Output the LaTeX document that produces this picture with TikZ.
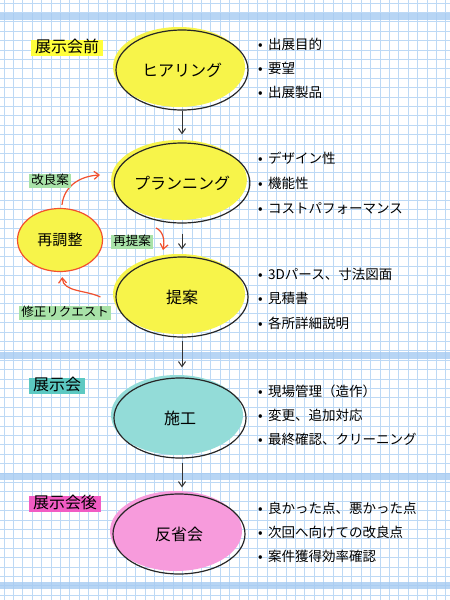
\documentclass[tikz,border=0pt]{standalone}
\usepackage{fontspec}
\setmainfont{Noto Sans CJK JP}
\usetikzlibrary{shapes.geometric, arrows.meta, positioning}
\definecolor{gridblue}{HTML}{BDD9F5}
\definecolor{bandblue}{HTML}{A6CBF2}
\definecolor{markyellow}{HTML}{F7F44A}
\definecolor{tagyellow}{HTML}{FFFF3C}
\definecolor{markteal}{HTML}{93DCD8}
\definecolor{tagteal}{HTML}{5CC9C2}
\definecolor{markpink}{HTML}{F79BDC}
\definecolor{tagpink}{HTML}{F25CC4}
\definecolor{taggreen}{HTML}{A8E2A8}
\definecolor{myred}{HTML}{F2502E}
\tikzset{
	stagenode/.style={
			ellipse,
			draw=black!85,
			line width=1.2pt,
			preaction={fill=#1, transform canvas={xshift=-3pt, yshift=3pt}},
			minimum width=132pt,
			minimum height=80pt,
			inner sep=0pt,
			font=\fontsize{16}{18}\selectfont
		},
	retunenode/.style={
			ellipse,
			draw=myred,
			line width=1.2pt,
			fill=markyellow,
			minimum width=85pt,
			minimum height=63pt,
			inner sep=0pt,
			font=\fontsize{15}{17}\selectfont
		},
	phasetag/.style={
			fill=#1,
			inner xsep=4pt,
			inner ysep=0.5pt,
			text height=12.5pt,
			text depth=3pt,
			font=\fontsize{16}{18}\selectfont
		},
	notetag/.style={
			fill=taggreen,
			inner xsep=2pt,
			inner ysep=0.5pt,
			text height=10pt,
			text depth=2.5pt,
			font=\fontsize{12.5}{14}\selectfont
		},
	itemtext/.style={
			anchor=west,
			inner sep=0pt,
			font=\fontsize{13.5}{15}\selectfont
		},
	flowarrow/.style={
			line width=1pt,
			draw=black!80,
			-{Straight Barb[length=5pt, width=7pt]}
		},
	redarrow/.style={
			line width=1.2pt,
			draw=myred,
			-{Straight Barb[length=5pt, width=8pt]}
		}
}
\newcommand{\itemdot}{\makebox[10pt][l]{•}}

\begin{document}
\begin{tikzpicture}[x=1pt, y=-1pt]
\useasboundingbox (0,0) rectangle (450,600);
\fill[white] (0,0) rectangle (450,600);

% squared paper
\foreach \gx in {4,13.4,...,450}
	\draw[gridblue, line width=0.8pt] (\gx,0) -- (\gx,600);
\foreach \gy in {3,12.4,...,600}
	\draw[gridblue, line width=0.8pt] (0,\gy) -- (450,\gy);
\foreach \by in {16,355,476,585}
	\draw[bandblue, line width=7pt, opacity=0.8] (0,\by) -- (450,\by);

% phase tags
\node[phasetag=tagyellow] (before) at (67,48) {展示会前};
\node[phasetag=tagteal] (during) at (57,386) {展示会};
\node[phasetag=tagpink] (after) at (65,504) {展示会後};

% stages
\node[stagenode=markyellow] (hear) at (182,70) {ヒアリング};
\node[stagenode=markyellow] (plan) at (182,183) {プランニング};
\node[stagenode=markyellow] (prop) at (182,297) {提案};
\node[stagenode=markteal] (build) at (180,418) {施工};
\node[stagenode=markpink] (review) at (179,534) {反省会};
\node[retunenode] (retune) at (60,240) {再調整};

% main flow
\draw[flowarrow, shorten >=8pt] (hear) -- (plan);
\draw[flowarrow, shorten <=10pt, shorten >=7pt] (plan) -- (prop);
\draw[flowarrow, shorten <=3pt, shorten >=10pt] (prop.south) -- ([xshift=2pt]build.north);
\draw[flowarrow, shorten <=4pt, shorten >=6pt] ([xshift=2pt]build.south) -- ([xshift=3pt]review.north);

% feedback loop
\coordinate (improveend) at (100,175);
\coordinate (repropstart) at (156,228);
\coordinate (repropend) at (163,250);
\draw[redarrow] ([xshift=2pt, yshift=3pt]retune.north) .. controls (64,186) and (80,176) .. (improveend);
\draw[redarrow] (repropstart) .. controls (163,231) and (165,240) .. (repropend);
\draw[redarrow, shorten >=5pt] ([xshift=-15pt]prop.west) .. controls (86,290) and (63,292) .. ([xshift=2pt]retune.south);
\node[notetag] (improve) at (50,181) {改良案};
\node[notetag] (repropose) at (132,242) {再提案};
\node[notetag] (request) at (65,313) {修正リクエスト};

% item lists
\foreach \txt [count=\i from 0] in {出展目的,要望,出展製品}
	\node[itemtext] (hearitem\i) at (258,{44+24*\i}) {\itemdot\txt};
\foreach \txt [count=\i from 0] in {デザイン性,機能性,コストパフォーマンス}
	\node[itemtext] (planitem\i) at (258,{158+25*\i}) {\itemdot\txt};
\foreach \txt [count=\i from 0] in {3Dパース、寸法図面,見積書,各所詳細説明}
	\node[itemtext] (propitem\i) at (258,{274+24.5*\i}) {\itemdot\txt};
\foreach \txt [count=\i from 0] in {現場管理（造作）,変更、追加対応,最終確認、クリーニング}
	\node[itemtext] (builditem\i) at (258,{391+24*\i}) {\itemdot\txt};
\foreach \txt [count=\i from 0] in {良かった点、悪かった点,次回へ向けての改良点,案件獲得効率確認}
	\node[itemtext] (reviewitem\i) at (258,{508+24*\i}) {\itemdot\txt};
\end{tikzpicture}
\end{document}
